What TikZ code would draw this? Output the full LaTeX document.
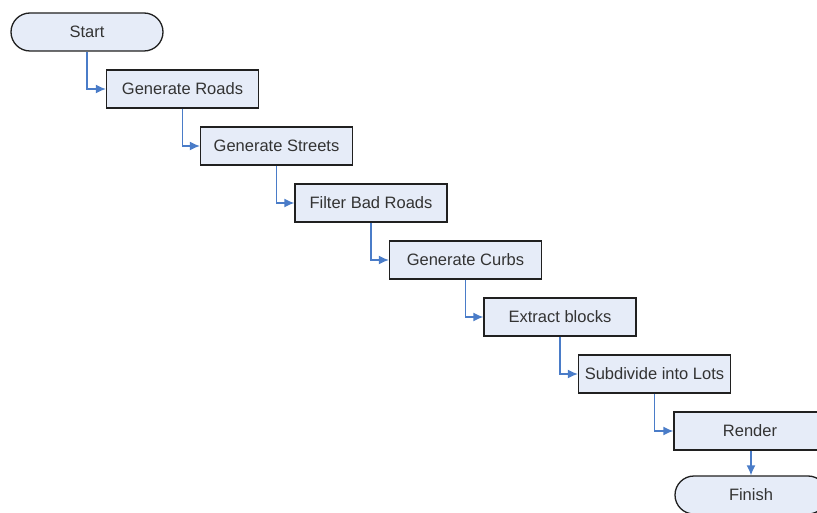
\documentclass[tikz,border=0pt]{standalone}
\usepackage{fontspec}
\setmainfont{Liberation Sans}
\usetikzlibrary{arrows.meta,shapes.misc}
\definecolor{boxfill}{HTML}{E6ECF8}
\definecolor{linkblue}{HTML}{4A7CC8}
\definecolor{edge}{HTML}{202020}
\begin{document}
\begin{tikzpicture}[x=1pt,y=-1pt,
  stepbox/.style={draw=edge,line width=1.3pt,fill=boxfill,minimum width=152pt,minimum height=38pt,inner sep=0pt,font=\fontsize{16.5}{20}\selectfont,text=black!80},
  termbox/.style={stepbox,rounded rectangle},
  link/.style={draw=linkblue,line width=1.3pt,-{Latex[length=10pt,width=9pt]}}]
\useasboundingbox (0,0) rectangle (817,513);
\clip (0,0) rectangle (817,513);
\node[termbox] (start) at (87,32) {Start};
\node[stepbox] (roads) at (182.5,89) {Generate Roads};
\node[stepbox] (streets) at (276.5,146) {Generate Streets};
\node[stepbox] (filter) at (371,203) {Filter Bad Roads};
\node[stepbox] (curbs) at (465.5,260) {Generate Curbs};
\node[stepbox] (blocks) at (560,317) {Extract blocks};
\node[stepbox] (lots) at (654.5,374) {Subdivide into Lots};
\node[stepbox] (render) at (750,431) {Render};
\node[termbox] (finish) at (751,495) {Finish};
\draw[link] (start.south) |- (roads.west);
\draw[link] (roads.south) |- (streets.west);
\draw[link] (streets.south) |- (filter.west);
\draw[link] (filter.south) |- (curbs.west);
\draw[link] (curbs.south) |- (blocks.west);
\draw[link] (blocks.south) |- (lots.west);
\draw[link] (lots.south) |- (render.west);
\draw[link] (render.south -| finish.north) -- (finish.north);
\end{tikzpicture}
\end{document}
